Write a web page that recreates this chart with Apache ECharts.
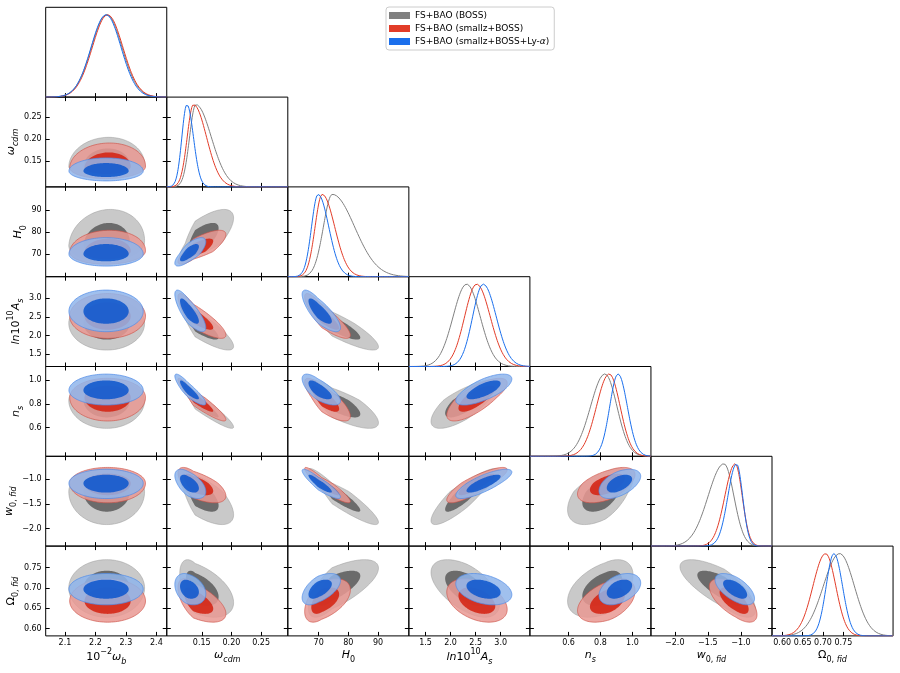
<!DOCTYPE html>
<html><head><meta charset="utf-8">
<script src="https://cdn.jsdelivr.net/npm/echarts@6/dist/echarts.min.js"></script>
<style>html,body{margin:0;padding:0;background:#fff}#c{width:900px;height:673px}</style>
</head><body><div id="c"></div>
<script>
// ---------------- DATA ----------------
const DATASETS = ['FS+BAO (BOSS)', 'FS+BAO (smallz+BOSS)', 'FS+BAO (smallz+BOSS+Ly-α)'];
// parameters: omega_b(x1e-2), omega_cdm, H0, ln10^10 As, n_s, w0_fid, Omega0_fid
const AXIS_MIN = [2.037, 0.091, 59.6, 1.167, 0.358, -2.36, 0.582];
const AXIS_MAX = [2.434, 0.295, 100.4, 3.582, 1.116, -0.53, 0.803];
const LAST_DIAG_MIN = 0.575, LAST_DIAG_MAX = 0.872;
const TICKS = [[2.1,2.2,2.3,2.4],[0.15,0.20,0.25],[70,80,90],[1.5,2.0,2.5,3.0],[0.6,0.8,1.0],[-2.0,-1.5,-1.0],[0.60,0.65,0.70,0.75]];
const TICK_DECIMALS = [1,2,0,1,1,1,2];

// 1D marginal peaks and asymmetric widths (diagonal panels)
const BOSS_1D_PEAK   = [2.237, 0.140, 74.6, 2.32, 0.828, -1.256, 0.741];
const BOSS_1D_SIG_LO = [0.050, 0.0105, 3.0, 0.27, 0.090, 0.24, 0.040];
const BOSS_1D_SIG_HI = [0.050, 0.026, 7.5, 0.27, 0.075, 0.15, 0.036];
const SMALLZ_1D_PEAK   = [2.240, 0.136, 71.2, 2.52, 0.855, -1.087, 0.7065];
const SMALLZ_1D_SIG_LO = [0.050, 0.0105, 2.4, 0.24, 0.080, 0.156, 0.031];
const SMALLZ_1D_SIG_HI = [0.050, 0.022, 4.2, 0.27, 0.068, 0.107, 0.025];
const LYA_1D_PEAK   = [2.235, 0.125, 69.8, 2.65, 0.910, -1.066, 0.727];
const LYA_1D_SIG_LO = [0.049, 0.0085, 2.2, 0.21, 0.052, 0.131, 0.019];
const LYA_1D_SIG_HI = [0.049, 0.011, 3.6, 0.26, 0.058, 0.092, 0.021];

// 2D contour centres and asymmetric widths
const BOSS_2D_CENTER = [2.237, 0.139, 74.5, 2.33, 0.830, -1.25, 0.700];
const BOSS_2D_SIG_LO = [0.050, 0.0105, 3.2, 0.29, 0.095, 0.27, 0.029];
const BOSS_2D_SIG_HI = [0.050, 0.026, 6.3, 0.26, 0.070, 0.19, 0.028];
const SMALLZ_2D_CENTER = [2.240, 0.136, 71.0, 2.52, 0.855, -1.08, 0.668];
const SMALLZ_2D_SIG_LO = [0.050, 0.0105, 2.3, 0.24, 0.080, 0.16, 0.021];
const SMALLZ_2D_SIG_HI = [0.050, 0.022, 3.9, 0.245, 0.065, 0.13, 0.022];
const LYA_2D_CENTER = [2.235, 0.127, 69.9, 2.65, 0.915, -1.08, 0.697];
const LYA_2D_SIG_LO = [0.049, 0.009, 2.2, 0.22, 0.050, 0.125, 0.0155];
const LYA_2D_SIG_HI = [0.049, 0.012, 3.0, 0.23, 0.055, 0.115, 0.0155];

// correlations, lower triangle by row (row param vs column params)
const BOSS_CORR = [[0.05],[0.10,0.75],[0.0,-0.86,-0.88],[0.0,-0.95,-0.80,0.75],[0.0,-0.70,-0.93,0.88,0.55],[0.0,-0.50,0.70,-0.55,0.45,-0.75]];
const SMALLZ_CORR = [[0.05],[0.05,0.80],[0.0,-0.85,-0.86],[0.0,-0.94,-0.80,0.75],[0.0,-0.65,-0.93,0.85,0.55],[0.0,-0.60,0.50,-0.40,0.45,-0.65]];
const LYA_CORR = [[0.0],[0.0,0.75],[0.0,-0.80,-0.80],[0.0,-0.88,-0.72,0.70],[0.0,-0.55,-0.90,0.80,0.50],[0.0,-0.30,0.55,-0.35,0.40,-0.60]];

const AXIS_NAMES = ['{n|10}{sup|−2}{i|ω}{subi|b}', '{i|ω}{subi|cdm}', '{i|H}{sub|0}', '{i|ln}{n|10}{sup|10}{i|A}{subi|s}', '{i|n}{subi|s}', '{i|w}{sub|0, }{subi|fid}', '{n|Ω}{sub|0, }{subi|fid}'];

// ---------------- STYLE / LAYOUT ----------------
const FONT = 'DejaVu Sans';
const LINE_COLORS = ['#808080', '#e23c28', '#1b6fec'];
const FILL_OUTER = ['#c9c9c9', 'rgba(233,153,147,0.85)', 'rgba(143,181,235,0.85)'];
const FILL_INNER = ['#6b6b6b', 'rgba(211,32,15,0.85)', 'rgba(10,85,205,0.85)'];
const EDGE_OUTER = ['rgba(150,150,150,0.6)', 'rgba(205,80,70,0.8)', 'rgba(80,140,232,0.9)'];
const GRID_LEFT = 45.7, GRID_TOP = 7.3, CELL_W = 121.05, CELL_H = 89.8;
const Y_NAME_GAP = [0, 19, 14, 14, 14, 19, 19];
const R_OUTER = 2.486, R_INNER = 1.515;

const MARG = [
  {peak: BOSS_1D_PEAK, lo: BOSS_1D_SIG_LO, hi: BOSS_1D_SIG_HI},
  {peak: SMALLZ_1D_PEAK, lo: SMALLZ_1D_SIG_LO, hi: SMALLZ_1D_SIG_HI},
  {peak: LYA_1D_PEAK, lo: LYA_1D_SIG_LO, hi: LYA_1D_SIG_HI}
];
const JOINT = [
  {c: BOSS_2D_CENTER, lo: BOSS_2D_SIG_LO, hi: BOSS_2D_SIG_HI, corr: BOSS_CORR},
  {c: SMALLZ_2D_CENTER, lo: SMALLZ_2D_SIG_LO, hi: SMALLZ_2D_SIG_HI, corr: SMALLZ_CORR},
  {c: LYA_2D_CENTER, lo: LYA_2D_SIG_LO, hi: LYA_2D_SIG_HI, corr: LYA_CORR}
];

const RICH = {
  n: {fontFamily: FONT, fontSize: 11, lineHeight: 18, color: '#000'},
  i: {fontFamily: FONT, fontSize: 11, lineHeight: 18, fontStyle: 'italic', color: '#000'},
  sub: {fontFamily: FONT, fontSize: 8, lineHeight: 12, verticalAlign: 'bottom', color: '#000'},
  subi: {fontFamily: FONT, fontSize: 8, lineHeight: 12, verticalAlign: 'bottom', fontStyle: 'italic', color: '#000'},
  sup: {fontFamily: FONT, fontSize: 8, lineHeight: 12, verticalAlign: 'top', color: '#000'}
};

function fmt(p) {
  return v => (v < 0 ? '−' : '') + Math.abs(v).toFixed(TICK_DECIMALS[p]);
}

const grids = [], xAxes = [], yAxes = [], series = [];

function addGrid(r, c) {
  grids.push({left: GRID_LEFT + c * CELL_W, top: GRID_TOP + r * CELL_H, width: CELL_W, height: CELL_H,
    show: true, borderColor: '#000', borderWidth: 1, backgroundColor: 'transparent',
    containLabel: false, outerBoundsMode: 'none'});
  return grids.length - 1;
}
function paramAxis(g, p, position, showLabel, min, max, name, nameGap) {
  const ax = {
    type: 'value', gridIndex: g, position: position,
    min: min != null ? min : AXIS_MIN[p], max: max != null ? max : AXIS_MAX[p],
    axisLine: {show: false}, splitLine: {show: false},
    axisTick: {show: true, inside: true, length: 4, customValues: TICKS[p], lineStyle: {color: '#000', width: 1}},
    axisLabel: {show: showLabel, customValues: TICKS[p], formatter: fmt(p), fontSize: 8, fontFamily: FONT, color: '#000',
      margin: (position === 'left' || position === 'right') ? 4 : 3},
    silent: true
  };
  if (name) {
    ax.name = name; ax.nameLocation = 'middle'; ax.nameGap = nameGap;
    ax.nameTextStyle = {fontFamily: FONT, color: '#000', rich: RICH};
  }
  return ax;
}

function splitScale(z, lo, hi) { return z < 0 ? z * lo : z * hi; }
function contourPoints(j, px, py, rho, rad) {
  const pts = [], N = 120, s = Math.sqrt(1 - rho * rho);
  for (let k = 0; k < N; k++) {
    const t = 2 * Math.PI * k / N;
    const u = rad * Math.cos(t), v = rad * Math.sin(t);
    const z1 = u, z2 = rho * u + s * v;
    pts.push([j.c[px] + splitScale(z1, j.lo[px], j.hi[px]), j.c[py] + splitScale(z2, j.lo[py], j.hi[py])]);
  }
  return pts;
}

for (let r = 0; r < 7; r++) {
  for (let c = 0; c <= r; c++) {
    const g = addGrid(r, c);
    if (r === c) {
      const last = (c === 6);
      const xmin = last ? LAST_DIAG_MIN : AXIS_MIN[c], xmax = last ? LAST_DIAG_MAX : AXIS_MAX[c];
      const xi = xAxes.length;
      xAxes.push(paramAxis(g, c, 'bottom', last, xmin, xmax, last ? AXIS_NAMES[c] : null, 10));
      const yi = yAxes.length;
      yAxes.push({type: 'value', gridIndex: g, min: 0, max: 1.09, show: false});
      if (c > 0) yAxes.push(paramAxis(g, c, 'left', false));
      for (let d = 0; d < 3; d++) {
        const m = MARG[d];
        const pts = [];
        const N = 300;
        for (let k = 0; k <= N; k++) {
          const x = xmin + (xmax - xmin) * k / N;
          const sg = x < m.peak[c] ? m.lo[c] : m.hi[c];
          const z = (x - m.peak[c]) / sg;
          pts.push([x, Math.exp(-0.5 * z * z)]);
        }
        series.push({type: 'line', name: DATASETS[d], xAxisIndex: xi, yAxisIndex: yi, data: pts,
          showSymbol: false, symbol: 'none', clip: true, silent: true, animation: false,
          lineStyle: {color: LINE_COLORS[d], width: 1}, itemStyle: {color: LINE_COLORS[d]}, z: 3});
      }
    } else {
      const xi = xAxes.length;
      xAxes.push(paramAxis(g, c, 'bottom', r === 6, null, null, r === 6 ? AXIS_NAMES[c] : null, 10));
      xAxes.push(paramAxis(g, c, 'top', false));
      const yi = yAxes.length;
      yAxes.push(paramAxis(g, r, 'left', c === 0, null, null, c === 0 ? AXIS_NAMES[r] : null, Y_NAME_GAP[r]));
      yAxes.push(paramAxis(g, r, 'right', false));
      for (let d = 0; d < 3; d++) {
        const j = JOINT[d];
        const rho = j.corr[r - 1][c];
        const polys = [contourPoints(j, c, r, rho, R_OUTER), contourPoints(j, c, r, rho, R_INNER)];
        series.push({type: 'custom', name: DATASETS[d], xAxisIndex: xi, yAxisIndex: yi, clip: true,
          silent: true, animation: false, itemStyle: {color: LINE_COLORS[d]}, z: 2,
          data: [[j.c[c], j.c[r]], [j.c[c], j.c[r]]],
          renderItem: (function (polys, d) {
            return function (params, api) {
              const k = params.dataIndex;
              return {type: 'polygon', shape: {points: polys[k].map(p => api.coord(p))},
                style: {fill: k === 0 ? FILL_OUTER[d] : FILL_INNER[d], stroke: k === 0 ? EDGE_OUTER[d] : 'none', lineWidth: 0.8}};
            };
          })(polys, d)});
      }
    }
  }
}

const chart = echarts.init(document.getElementById('c'), null, {renderer: 'canvas'});
chart.setOption({
  animation: false,
  backgroundColor: '#fff',
  grid: grids, xAxis: xAxes, yAxis: yAxes, series: series,
  legend: {
    left: 386, top: 7, orient: 'vertical', icon: 'rect', itemWidth: 21, itemHeight: 7, itemGap: 2,
    padding: [3, 5, 3, 3], backgroundColor: '#fff', borderColor: '#cccccc', borderWidth: 1, borderRadius: 3,
    data: DATASETS.map((n, d) => ({name: n, itemStyle: {color: LINE_COLORS[d]}})),
    formatter: n => n.replace('α', '{a|α}'),
    textStyle: {fontFamily: FONT, fontSize: 9, color: '#000', lineHeight: 11,
      rich: {a: {fontFamily: FONT, fontSize: 9, fontStyle: 'italic', color: '#000'}}},
    selectedMode: false
  }
});
</script></body></html>
